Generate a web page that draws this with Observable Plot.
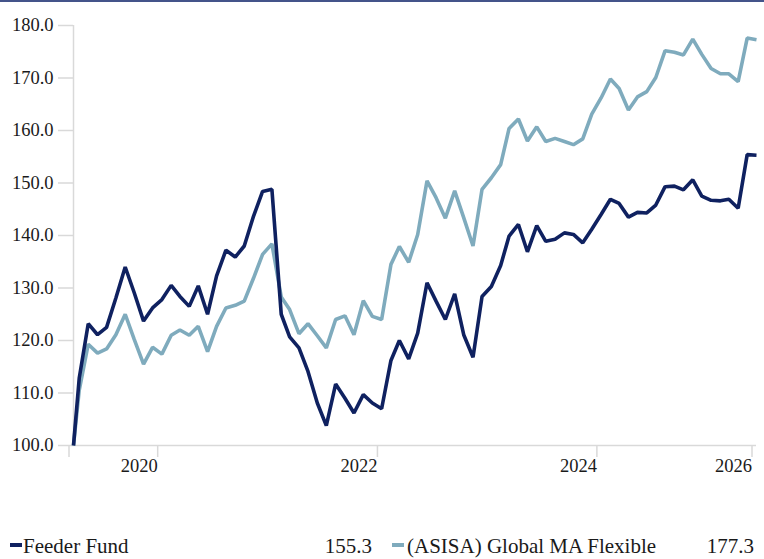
<!DOCTYPE html>
<html>
<head>
<meta charset="utf-8">
<script src="https://cdn.jsdelivr.net/npm/d3@7"></script>
<script src="https://cdn.jsdelivr.net/npm/@observablehq/plot@0.6"></script>
<style>
  html, body { margin: 0; padding: 0; background: #fff; }
  body { width: 764px; height: 559px; position: relative; overflow: hidden; font-family: "Liberation Serif", "Times New Roman", Times, "DejaVu Serif", serif; color: #1a1a1a; }
  #topline { position: absolute; left: 0; top: 0; width: 764px; height: 2px; background: #44548a; }
  #chart { position: absolute; left: 0; top: 0; }
  #chart svg, #chart svg text { font-family: "Liberation Serif", "Times New Roman", Times, "DejaVu Serif", serif !important; }
  #legend { position: absolute; left: 0; top: 536px; width: 764px; height: 22px; font-size: 21px; line-height: 21px; }
  #legend span { position: absolute; top: 0; white-space: nowrap; }
  #legend .sw { top: 7px; width: 12px; height: 4px; }
</style>
</head>
<body>
<div id="topline"></div>
<div id="chart"></div>
<div id="legend"></div>
<script>
const dates = [
  "2019-03-12","2019-03-31","2019-04-30","2019-05-31","2019-06-30","2019-07-31","2019-08-31","2019-09-30","2019-10-31","2019-11-30","2019-12-31",
  "2020-01-31","2020-02-29","2020-03-31","2020-04-30","2020-05-31","2020-06-30","2020-07-31","2020-08-31","2020-09-30","2020-10-31","2020-11-30","2020-12-31",
  "2021-01-31","2021-02-28","2021-03-31","2021-04-30","2021-05-31","2021-06-30","2021-07-31","2021-08-31","2021-09-30","2021-10-31","2021-11-30","2021-12-31",
  "2022-01-31","2022-02-28","2022-03-31","2022-04-30","2022-05-31","2022-06-30","2022-07-31","2022-08-31","2022-09-30","2022-10-31","2022-11-30","2022-12-31",
  "2023-01-31","2023-02-28","2023-03-31","2023-04-30","2023-05-31","2023-06-30","2023-07-31","2023-08-31","2023-09-30","2023-10-31","2023-11-30","2023-12-31",
  "2024-01-31","2024-02-29","2024-03-31","2024-04-30","2024-05-31","2024-06-30","2024-07-31","2024-08-31","2024-09-30","2024-10-31","2024-11-30","2024-12-31",
  "2025-01-31","2025-02-28","2025-03-31","2025-04-30","2025-05-31"
];

const feederValues = [
  100.0,112.8,123.2,121.1,122.5,128.1,134.0,129.1,123.7,126.2,127.8,
  130.5,128.4,126.5,130.4,125.0,132.3,137.2,135.9,138.0,143.7,148.4,148.8,
  125.0,120.7,118.6,114.1,108.1,103.8,111.7,109.0,106.2,109.7,108.1,107.0,
  116.2,120.0,116.5,121.4,131.0,127.5,124.0,128.9,121.1,116.8,128.4,130.3,
  134.3,139.9,142.1,136.9,141.9,138.9,139.3,140.5,140.2,138.6,141.2,144.0,
  146.9,146.1,143.5,144.4,144.3,145.8,149.3,149.4,148.7,150.6,147.5,146.7,
  146.6,146.9,145.2,155.4,155.3
];

const asisaValues = [
  100.0,110.5,119.3,117.6,118.4,121.1,125.0,120.2,115.5,118.7,117.4,
  121.0,122.0,121.0,122.7,117.9,122.7,126.2,126.7,127.5,131.9,136.4,138.4,
  128.3,125.9,121.3,123.2,120.9,118.6,124.0,124.7,121.1,127.6,124.6,124.0,
  134.5,137.9,134.9,140.2,150.4,147.2,143.3,148.5,143.4,138.0,148.8,151.0,
  153.5,160.4,162.2,158.0,160.7,157.9,158.5,157.9,157.3,158.4,163.1,166.2,
  169.8,168.0,163.9,166.4,167.4,170.1,175.2,174.9,174.4,177.4,174.5,171.8,
  170.8,170.8,169.3,177.6,177.3
];

const seriesNames = ["Feeder Fund", "(ASISA) Global MA Flexible"];
const seriesColors = ["#0f2160", "#7fabbd"];

const yTicks = [100, 110, 120, 130, 140, 150, 160, 170, 180];
const xTickDates = ["2019-03-12", "2020-01-01", "2022-01-01", "2024-01-01", "2025-05-31"];
const xTickLabels = ["", "2020", "2022", "2024", "2026"];

const serifStack = "'Liberation Serif', 'Times New Roman', Times, 'DejaVu Serif', serif";
const parse = d3.utcParse("%Y-%m-%d");
const feederRows = dates.map((d, i) => ({date: parse(d), value: feederValues[i]}));
const asisaRows = dates.map((d, i) => ({date: parse(d), value: asisaValues[i]}));
const tickDates = xTickDates.map(parse);
const labelMap = new Map(tickDates.map((d, i) => [+d, xTickLabels[i]]));
const axisGray = "#d9d9d9";

const chart = Plot.plot({
  width: 764,
  height: 490,
  marginLeft: 73,
  marginRight: 8,
  marginTop: 25,
  marginBottom: 45,
  style: {fontFamily: serifStack, fontSize: "18.5px", color: "#1a1a1a", background: "transparent", overflow: "visible"},
  x: {type: "utc", domain: [tickDates[0], tickDates[tickDates.length - 1]]},
  y: {domain: [yTicks[0], yTicks[yTicks.length - 1]]},
  marks: [
    Plot.ruleX([tickDates[0]], {y1: yTicks[0], y2: yTicks[yTicks.length - 1], stroke: axisGray, strokeWidth: 1.5}),
    Plot.ruleY([yTicks[0]], {stroke: axisGray, strokeWidth: 1.5}),
    Plot.axisY({ticks: yTicks, tickSize: 15, tickPadding: 5, tickFormat: d3.format(".1f"), stroke: axisGray, strokeWidth: 1.5, fill: "#1a1a1a", label: null}),
    Plot.axisX({ticks: tickDates, tickSize: 12, tickPadding: 1, tickFormat: d => labelMap.get(+d), textAnchor: "end", dx: -4.5, stroke: axisGray, strokeWidth: 1.5, fill: "#1a1a1a", label: null}),
    Plot.line(asisaRows, {x: "date", y: "value", stroke: seriesColors[1], strokeWidth: 3.6, strokeLinejoin: "miter", strokeLinecap: "butt"}),
    Plot.line(feederRows, {x: "date", y: "value", stroke: seriesColors[0], strokeWidth: 3.6, strokeLinejoin: "miter", strokeLinecap: "butt"})
  ]
});
document.getElementById("chart").appendChild(chart);

// legend
const lastValues = [feederValues[feederValues.length - 1], asisaValues[asisaValues.length - 1]];
const legendLayout = [
  {sw: 10, text: 23, valueRight: 392},
  {sw: 392, text: 407, valueRight: 10}
];
const legend = document.getElementById("legend");
seriesNames.forEach((name, i) => {
  const L = legendLayout[i];
  const sw = document.createElement("span");
  sw.className = "sw";
  sw.style.left = L.sw + "px";
  sw.style.background = seriesColors[i];
  legend.appendChild(sw);
  const t = document.createElement("span");
  t.style.left = L.text + "px";
  t.textContent = name;
  legend.appendChild(t);
  const v = document.createElement("span");
  v.style.right = L.valueRight + "px";
  v.textContent = d3.format(".1f")(lastValues[i]);
  legend.appendChild(v);
});
</script>
</body>
</html>
